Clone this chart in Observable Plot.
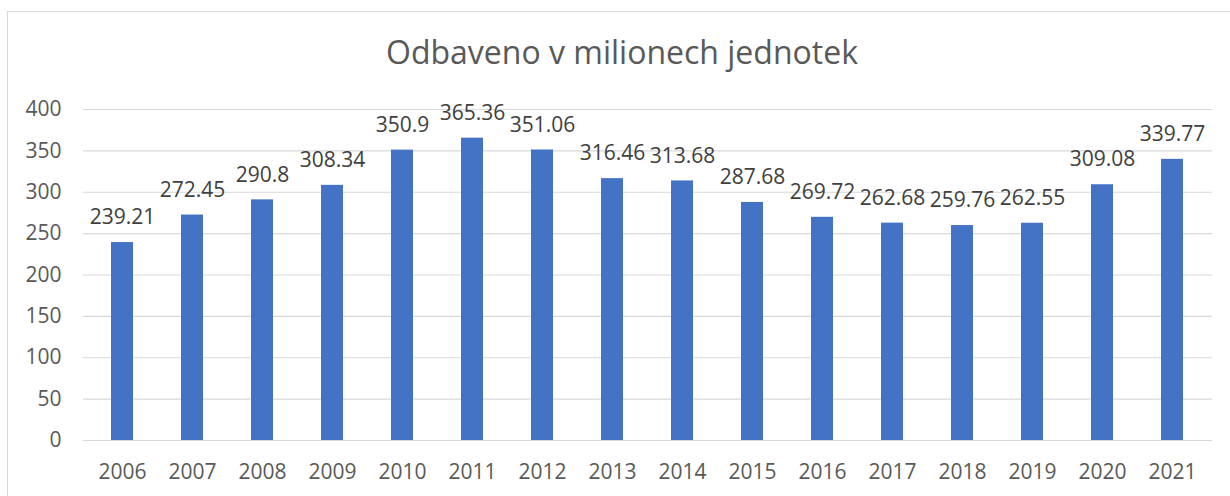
<!DOCTYPE html>
<html>
<head>
<meta charset="utf-8">
<script src="https://cdn.jsdelivr.net/npm/d3@7"></script>
<script src="https://cdn.jsdelivr.net/npm/@observablehq/plot@0.6"></script>
<style>
  html, body { margin: 0; padding: 0; background: #fff; overflow: hidden; }
  #wrap { position: relative; width: 1230px; height: 496px; font-family: "Open Sans", sans-serif; }
  #frame { position: absolute; left: 7px; top: 11px; width: 1240px; height: 520px; border: 1px solid #d9d9d9; box-sizing: border-box; }
  #title { position: absolute; left: 0; width: 1244px; top: 30px; text-align: center; font-size: 32px; color: #595959; line-height: 44px; }
  #chart { position: absolute; left: 0; top: 0; }
</style>
</head>
<body>
<div id="wrap">
  <div id="frame"></div>
  <div id="title">Odbaveno v milionech jednotek</div>
  <div id="chart"></div>
</div>
<script>
const years = ["2006","2007","2008","2009","2010","2011","2012","2013","2014","2015","2016","2017","2018","2019","2020","2021"];
const values = [239.21, 272.45, 290.8, 308.34, 350.9, 365.36, 351.06, 316.46, 313.68, 287.68, 269.72, 262.68, 259.76, 262.55, 309.08, 339.77];
const yTicks = [0, 50, 100, 150, 200, 250, 300, 350, 400];

const data = years.map((y, i) => ({year: y, value: values[i]}));

const chart = Plot.plot({
  width: 1230,
  height: 496,
  marginLeft: 83,
  marginRight: 18,
  marginTop: 109,
  marginBottom: 56,
  style: {fontFamily: "Open Sans, sans-serif", background: "transparent", color: "#595959"},
  x: {domain: years, paddingInner: 0.68, paddingOuter: 0.34, label: null},
  y: {domain: [0, 400], label: null},
  marks: [
    Plot.gridY(yTicks, {stroke: "#d9d9d9", strokeOpacity: 1, strokeWidth: 1.2}),
    Plot.axisY(yTicks, {tickSize: 0, tickPadding: 22, fontSize: 21, fill: "#595959", label: null}),
    Plot.axisX({tickSize: 0, tickPadding: 24, fontSize: 21, fill: "#595959", label: null}),
    Plot.barY(data, {x: "year", y: "value", fill: "#4472C4"}),
    Plot.text(data, {x: "year", y: "value", text: d => String(d.value), dy: -25, lineAnchor: "middle", fontSize: 21, fill: "#404040"})
  ]
});
document.getElementById("chart").appendChild(chart);
</script>
</body>
</html>
